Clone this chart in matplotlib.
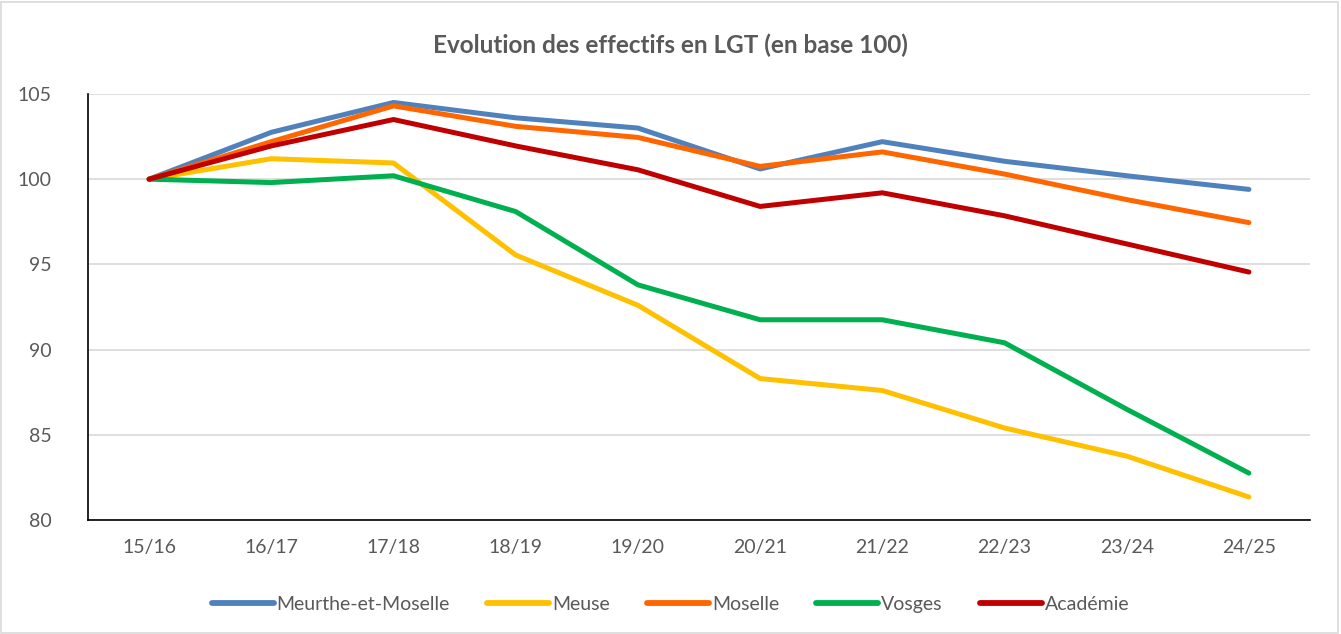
import matplotlib.pyplot as plt
from matplotlib.patches import Rectangle

# Data
years = ['15/16', '16/17', '17/18', '18/19', '19/20', '20/21', '21/22', '22/23', '23/24', '24/25']
meurthe = [100, 102.75, 104.5, 103.6, 103.0, 100.6, 102.2, 101.05, 100.2, 99.4]
meuse = [100, 101.2, 100.95, 95.55, 92.6, 88.3, 87.6, 85.4, 83.75, 81.35]
moselle = [100, 102.2, 104.3, 103.1, 102.45, 100.75, 101.6, 100.3, 98.8, 97.45]
vosges = [100, 99.8, 100.2, 98.1, 93.8, 91.75, 91.75, 90.4, 86.5, 82.75]
academie = [100, 101.95, 103.5, 101.95, 100.55, 98.4, 99.2, 97.85, 96.2, 94.55]

series = [
    ('Meurthe-et-Moselle', meurthe, '#4F81BD'),
    ('Meuse', meuse, '#FFC000'),
    ('Moselle', moselle, '#FF6600'),
    ('Vosges', vosges, '#00B050'),
    ('Académie', academie, '#C00000'),
]

plt.rcParams['font.family'] = ['Lato', 'DejaVu Sans']
text_color = '#595959'

fig = plt.figure(figsize=(13.41, 6.34), dpi=100)
ax = fig.add_axes([0.0656, 0.1798, 0.9113, 0.672])

x = list(range(len(years)))
for name, values, color in series:
    ax.plot(x, values, color=color, linewidth=3.6, label=name,
            solid_capstyle='round', solid_joinstyle='round')

ax.set_xlim(-0.5, len(years) - 0.5)
ax.set_ylim(80, 105)
ax.set_yticks([80, 85, 90, 95, 100, 105])
ax.set_xticks(x)
ax.set_xticklabels(years)
ax.tick_params(axis='both', length=0, labelsize=14, labelcolor=text_color)
ax.tick_params(axis='x', pad=14)
ax.tick_params(axis='y', pad=26)
ax.grid(axis='y', color='#d9d9d9', linewidth=1.2)
ax.set_axisbelow(True)
for side in ['top', 'right']:
    ax.spines[side].set_visible(False)
for side in ['left', 'bottom']:
    ax.spines[side].set_color('black')
    ax.spines[side].set_linewidth(1.2)

fig.text(0.5, 0.928, 'Evolution des effectifs en LGT (en base 100)', ha='center', va='center',
         fontsize=17.5, fontweight='bold', color=text_color)

leg = fig.legend(loc='center', bbox_to_anchor=(0.5, 0.047), ncol=5, frameon=False,
                 fontsize=14, handlelength=3.2, handletextpad=0.15, columnspacing=1.9)
for line in leg.get_lines():
    line.set_linewidth(4.2)
for t in leg.get_texts():
    t.set_color(text_color)

# outer chart border
fig.patches.append(Rectangle((0.001, 0.002), 0.997, 0.995, transform=fig.transFigure,
                             fill=False, edgecolor='#d9d9d9', linewidth=1.2))

fig.savefig('out.png', dpi=100)
